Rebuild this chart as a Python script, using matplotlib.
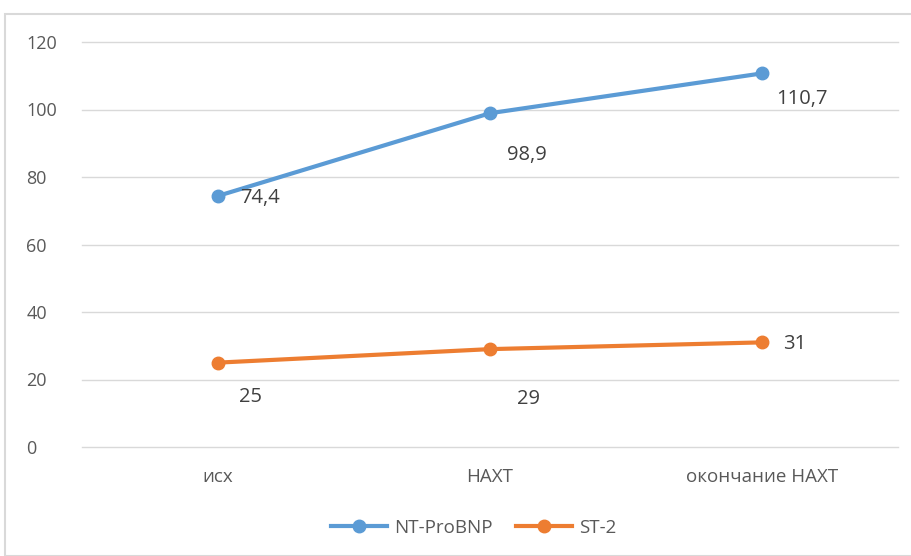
import matplotlib.pyplot as plt
from matplotlib.patches import Rectangle

plt.rcParams['font.family'] = ['Open Sans', 'DejaVu Sans']

stages = ["исх", "НАХТ", "окончание НАХТ"]
nt_probnp = [74.4, 98.9, 110.7]
st2 = [25, 29, 31]
nt_labels = ["74,4", "98,9", "110,7"]
st2_labels = ["25", "29", "31"]

# offsets of value labels from their points, in pixels
nt_offsets = [(42, -2), (37, -42), (40, -26)]
st2_offsets = [(33, -34), (38, -50), (33, -2)]

blue = "#5B9BD5"
orange = "#ED7D31"
text_col = "#595959"

fig = plt.figure(figsize=(9.11, 5.56), dpi=100)
fig.patches.append(Rectangle((5 / 911, 0), 1.0, 1 - 14 / 556, transform=fig.transFigure,
                             fill=False, edgecolor="#D9D9D9", linewidth=1.5))
ax = fig.add_axes([82 / 911, 1 - 447 / 556, (898 - 82) / 911, (447 - 42) / 556])

x = range(len(stages))
ax.plot(x, nt_probnp, color=blue, lw=3, marker='o', ms=9, label="NT-ProBNP", zorder=3)
ax.plot(x, st2, color=orange, lw=3, marker='o', ms=9, label="ST-2", zorder=3)

for i, (v, lab) in enumerate(zip(nt_probnp, nt_labels)):
    ax.annotate(lab, (i, v), xytext=nt_offsets[i], textcoords='offset pixels',
                ha='center', va='center', fontsize=14.5, color="#404040")
for i, (v, lab) in enumerate(zip(st2, st2_labels)):
    ax.annotate(lab, (i, v), xytext=st2_offsets[i], textcoords='offset pixels',
                ha='center', va='center', fontsize=14.5, color="#404040")

ax.set_xlim(-0.5, 2.5)
ax.set_ylim(0, 120)
ax.set_yticks(range(0, 121, 20))
ax.set_xticks(list(x))
ax.set_xticklabels(stages)
ax.grid(axis='y', color="#D9D9D9", lw=1)
for gl in ax.get_ygridlines():
    gl.set_clip_on(False)
ax.set_axisbelow(True)
for s in ax.spines.values():
    s.set_visible(False)
ax.tick_params(length=0, colors=text_col)
ax.tick_params(axis='y', pad=40, labelsize=13)
ax.tick_params(axis='x', pad=15, labelsize=13.5)
for t in ax.get_yticklabels():
    t.set_horizontalalignment('left')

ax.legend(loc='center', bbox_to_anchor=(0.48, -0.2), ncol=2, frameon=False,
          fontsize=13.5, labelcolor=text_col, handlelength=3, handletextpad=0.4,
          columnspacing=1.2)

fig.savefig("out.png", dpi=100)
